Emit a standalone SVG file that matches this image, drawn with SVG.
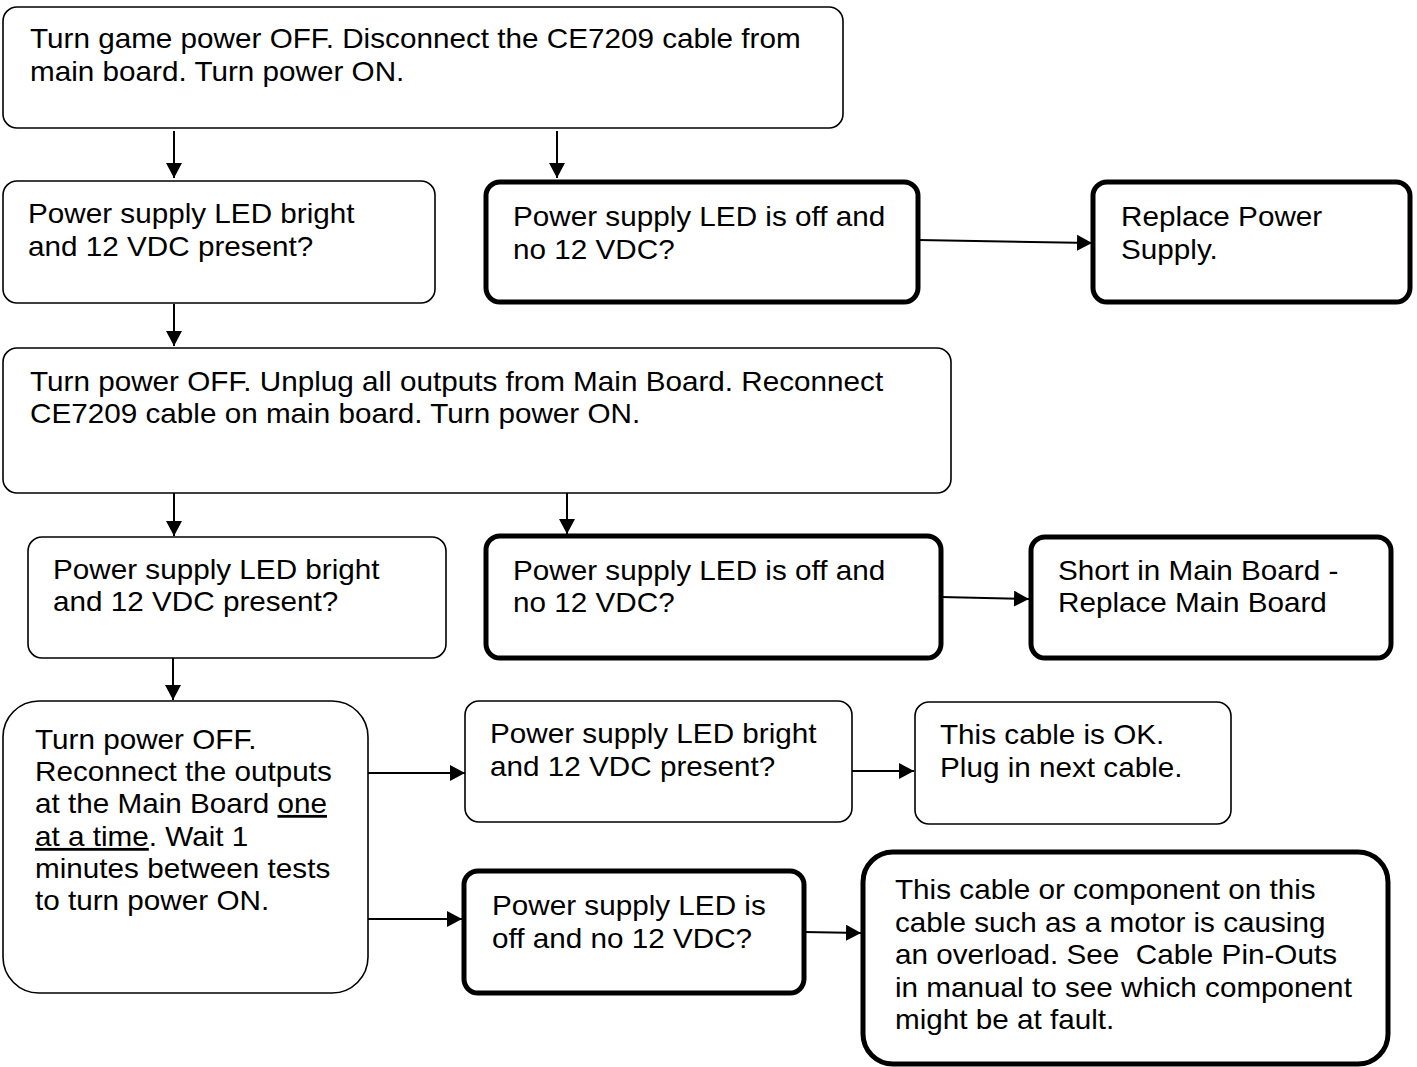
<svg xmlns="http://www.w3.org/2000/svg" width="1417" height="1067" viewBox="0 0 1417 1067">
<defs>
<marker id="ah" markerWidth="15" markerHeight="16" refX="15" refY="8" orient="auto" markerUnits="userSpaceOnUse">
<path d="M0,0 L15,8 L0,16 Z" fill="#000"/>
</marker>
<style>
.thin{fill:#fff;stroke:#000;stroke-width:1.6}
.thick{fill:#fff;stroke:#000;stroke-width:5}
text{font-family:"Liberation Sans",Arial,sans-serif;font-size:28px;fill:#000;transform-box:fill-box;transform-origin:0 50%;transform:scaleX(1.06)}
.c{stroke:#000;stroke-width:2;fill:none;marker-end:url(#ah)}
</style>
</defs>
<rect width="1417" height="1067" fill="#fff"/>
<g id="connectors">
<line class="c" x1="174" y1="131" x2="174" y2="178"/>
<line class="c" x1="557" y1="131" x2="557" y2="178"/>
<line class="c" x1="918" y1="240" x2="1092" y2="243"/>
<line class="c" x1="174" y1="304" x2="174" y2="346"/>
<line class="c" x1="174" y1="493" x2="174" y2="536"/>
<line class="c" x1="567" y1="492" x2="567" y2="534"/>
<line class="c" x1="941" y1="597" x2="1029" y2="599"/>
<line class="c" x1="173" y1="658" x2="173" y2="700"/>
<line class="c" x1="368" y1="773" x2="465" y2="773"/>
<line class="c" x1="852" y1="771" x2="914" y2="771"/>
<line class="c" x1="368" y1="919" x2="462" y2="919"/>
<line class="c" x1="804" y1="932" x2="861" y2="933"/>
</g>
<g id="n1">
<rect class="thin" x="3" y="7" width="840" height="121" rx="14"/>
<text x="30" y="48">Turn game power OFF. Disconnect the CE7209 cable from</text>
<text x="30" y="81">main board. Turn power ON.</text>
</g>
<g id="n2">
<rect class="thin" x="3" y="181" width="432" height="122" rx="14"/>
<text x="28" y="223">Power supply LED bright</text>
<text x="28" y="256">and 12 VDC present?</text>
</g>
<g id="n3">
<rect class="thick" x="486" y="182" width="432" height="120" rx="14"/>
<text x="513" y="226">Power supply LED is off and</text>
<text x="513" y="259">no 12 VDC?</text>
</g>
<g id="n4">
<rect class="thick" x="1093" y="182" width="317" height="120" rx="14"/>
<text x="1121" y="226">Replace Power</text>
<text x="1121" y="259">Supply.</text>
</g>
<g id="n5">
<rect class="thin" x="3" y="348" width="948" height="145" rx="14"/>
<text x="30" y="391">Turn power OFF. Unplug all outputs from Main Board. Reconnect</text>
<text x="30" y="423">CE7209 cable on main board. Turn power ON.</text>
</g>
<g id="n6">
<rect class="thin" x="28" y="537" width="418" height="121" rx="14"/>
<text x="53" y="579">Power supply LED bright</text>
<text x="53" y="611">and 12 VDC present?</text>
</g>
<g id="n7">
<rect class="thick" x="486" y="536" width="455" height="122" rx="14"/>
<text x="513" y="580">Power supply LED is off and</text>
<text x="513" y="612">no 12 VDC?</text>
</g>
<g id="n8">
<rect class="thick" x="1031" y="537" width="360" height="121" rx="14"/>
<text x="1058" y="580">Short in Main Board -</text>
<text x="1058" y="612">Replace Main Board</text>
</g>
<g id="n9">
<rect class="thin" x="3" y="701" width="365" height="292" rx="36"/>
<text x="35" y="749">Turn power OFF.</text>
<text x="35" y="781">Reconnect the outputs</text>
<text x="35" y="813">at the Main Board <tspan text-decoration="underline">one</tspan></text>
<text x="35" y="846"><tspan text-decoration="underline">at a time</tspan>. Wait 1</text>
<text x="35" y="878">minutes between tests</text>
<text x="35" y="910">to turn power ON.</text>
</g>
<g id="n10">
<rect class="thin" x="465" y="701" width="387" height="121" rx="14"/>
<text x="490" y="743">Power supply LED bright</text>
<text x="490" y="776">and 12 VDC present?</text>
</g>
<g id="n11">
<rect class="thin" x="915" y="702" width="316" height="122" rx="14"/>
<text x="940" y="744">This cable is OK.</text>
<text x="940" y="777">Plug in next cable.</text>
</g>
<g id="n12">
<rect class="thick" x="464" y="871" width="340" height="122" rx="14"/>
<text x="492" y="915">Power supply LED is</text>
<text x="492" y="948">off and no 12 VDC?</text>
</g>
<g id="n13">
<rect class="thick" x="863" y="852" width="525" height="212" rx="30"/>
<text x="895" y="899">This cable or component on this</text>
<text x="895" y="932">cable such as a motor is causing</text>
<text x="895" y="964" style="white-space:pre">an overload. See  Cable Pin-Outs</text>
<text x="895" y="997">in manual to see which component</text>
<text x="895" y="1029">might be at fault.</text>
</g>
</svg>
